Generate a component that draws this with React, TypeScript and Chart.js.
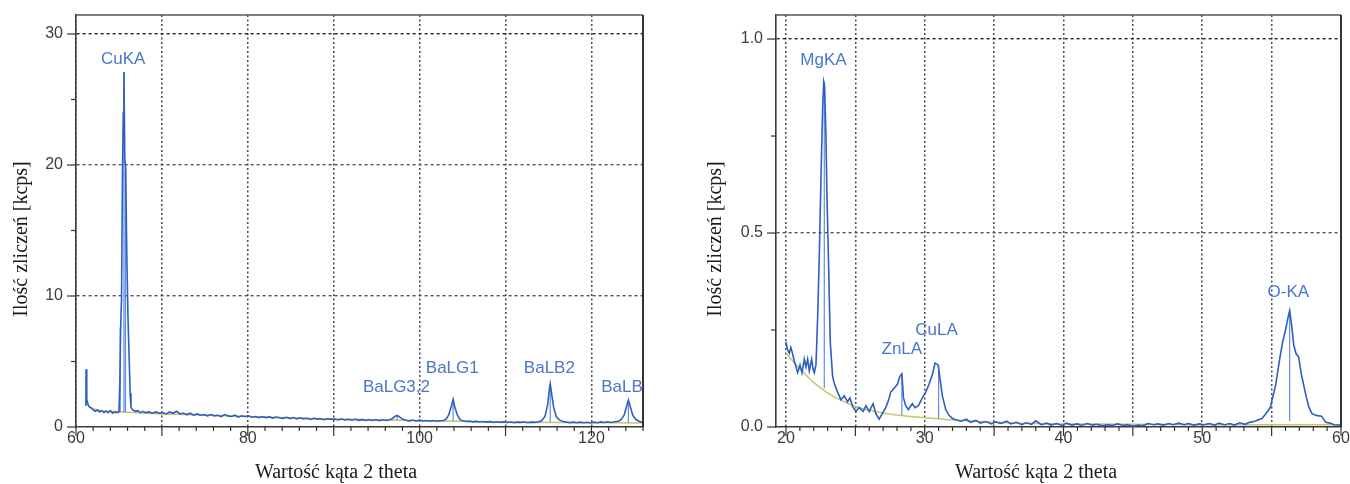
import React, { useEffect, useRef } from 'react';
import { Chart, registerables } from 'chart.js';

Chart.register(...registerables);

type P = [number, number];
type M = [number, number, number];
type L = [string, number, number];

// ---------- LEFT PANEL DATA (2θ 60–126) ----------
const leftSpectrum: P[] = [
  [61.15, 1.6], [61.17, 4.4], [61.25, 2.1], [61.4, 1.7], [61.6, 1.5], [61.8, 1.45], [62.0, 1.3],
  [62.25, 1.2], [62.5, 1.3], [62.75, 1.15], [63.0, 1.25], [63.25, 1.1], [63.5, 1.2], [63.75, 1.1],
  [64.0, 1.25], [64.25, 1.05], [64.5, 1.15], [64.75, 1.1], [65.0, 1.15], [65.1, 3.2], [65.2, 7.6],
  [65.3, 9.8], [65.4, 18.7], [65.5, 24.0], [65.58, 27.1], [65.68, 20.5], [65.78, 19.8], [65.9, 13.7],
  [66.05, 8.4], [66.2, 5.0], [66.3, 2.6], [66.4, 1.5], [66.6, 1.3], [66.9, 1.2], [67.2, 1.25],
  [67.5, 1.1], [67.8, 1.2], [68.1, 1.1], [68.5, 1.15], [68.9, 1.05], [69.3, 1.15], [69.7, 1.05],
  [70.1, 1.1], [70.5, 1.0], [70.9, 1.15], [71.3, 1.05], [71.7, 1.2], [72.1, 1.0], [72.5, 1.05],
  [72.9, 0.95], [73.3, 1.05], [73.7, 0.9], [74.1, 1.0], [74.5, 0.9], [74.9, 0.95], [75.3, 0.85],
  [75.7, 0.95], [76.1, 0.85], [76.5, 0.9], [76.9, 0.8], [77.3, 0.95], [77.7, 0.85], [78.1, 0.8],
  [78.5, 0.9], [78.9, 0.75], [79.3, 0.85], [79.7, 0.8], [80.1, 0.85], [80.5, 0.75], [80.9, 0.8],
  [81.3, 0.72], [81.7, 0.8], [82.1, 0.72], [82.5, 0.77], [82.9, 0.68], [83.3, 0.76], [83.7, 0.7],
  [84.1, 0.66], [84.5, 0.74], [84.9, 0.64], [85.3, 0.72], [85.7, 0.62], [86.1, 0.7], [86.5, 0.62],
  [86.9, 0.67], [87.3, 0.58], [87.7, 0.67], [88.1, 0.6], [88.5, 0.63], [88.9, 0.56], [89.3, 0.63],
  [89.7, 0.58], [90.1, 0.61], [90.5, 0.54], [90.9, 0.61], [91.3, 0.54], [91.7, 0.59], [92.1, 0.52],
  [92.5, 0.59], [92.9, 0.51], [93.3, 0.56], [93.7, 0.5], [94.1, 0.55], [94.5, 0.5], [94.9, 0.55],
  [95.3, 0.49], [95.7, 0.55], [96.1, 0.5], [96.5, 0.55], [96.8, 0.63], [97.1, 0.8], [97.4, 0.88],
  [97.7, 0.75], [98.0, 0.6], [98.4, 0.52], [98.8, 0.47], [99.2, 0.53], [99.6, 0.46], [100.0, 0.52],
  [100.4, 0.46], [100.8, 0.5], [101.2, 0.44], [101.6, 0.49], [102.0, 0.44], [102.4, 0.48],
  [102.8, 0.5], [103.1, 0.62], [103.4, 0.95], [103.7, 1.6], [103.9, 2.1], [104.1, 1.5], [104.4, 0.9],
  [104.7, 0.58], [105.0, 0.47], [105.4, 0.42], [105.8, 0.45], [106.2, 0.39], [106.6, 0.43],
  [107.0, 0.38], [107.4, 0.42], [107.8, 0.37], [108.2, 0.41], [108.6, 0.35], [109.0, 0.4],
  [109.4, 0.35], [109.8, 0.39], [110.2, 0.34], [110.6, 0.38], [111.0, 0.33], [111.4, 0.37],
  [111.8, 0.35], [112.2, 0.38], [112.6, 0.33], [113.0, 0.37], [113.4, 0.35], [113.8, 0.4],
  [114.2, 0.48], [114.6, 0.82], [114.9, 1.7], [115.1, 2.9], [115.2, 3.3], [115.35, 2.6], [115.6, 1.5],
  [115.9, 0.8], [116.3, 0.52], [116.7, 0.42], [117.1, 0.37], [117.5, 0.33], [117.9, 0.37],
  [118.3, 0.33], [118.7, 0.37], [119.1, 0.32], [119.5, 0.36], [119.9, 0.31], [120.3, 0.37],
  [120.7, 0.33], [121.1, 0.39], [121.5, 0.34], [121.9, 0.4], [122.3, 0.35], [122.7, 0.4],
  [123.1, 0.44], [123.4, 0.52], [123.8, 0.9], [124.1, 1.6], [124.3, 2.05], [124.5, 1.6],
  [124.8, 0.9], [125.2, 0.55], [125.6, 0.42], [126.0, 0.37],
];
const leftBackground: P[] = [
  [61.2, 2.2], [61.5, 1.6], [62, 1.4], [63, 1.25], [64, 1.2], [66, 1.12], [68, 1.05], [70, 1.0],
  [75, 0.9], [80, 0.8], [85, 0.7], [90, 0.62], [95, 0.55], [100, 0.48], [105, 0.43], [110, 0.38],
  [115, 0.35], [120, 0.33], [126, 0.31],
];
// [2θ, base, top]
const leftMarkers: M[] = [
  [65.15, 1.15, 7.6], [65.58, 1.12, 27.1], [65.76, 1.12, 19.6], [97.4, 0.54, 0.85],
  [103.9, 0.44, 2.0], [115.2, 0.36, 3.2], [124.3, 0.32, 2.0],
];
const leftLabels: L[] = [
  ['CuKA', 65.5, 28.1], ['BaLG3,2', 97.3, 3.05], ['BaLG1', 103.8, 4.5], ['BaLB2', 115.1, 4.5],
  ['BaLB1', 124.1, 3.05],
];

// ---------- RIGHT PANEL DATA (2θ 20–60) ----------
const rightSpectrum: P[] = [
  [20.0, 0.22], [20.1, 0.2], [20.24, 0.19], [20.35, 0.205], [20.43, 0.195], [20.6, 0.17],
  [20.72, 0.155], [20.84, 0.14], [21.01, 0.16], [21.15, 0.14], [21.25, 0.16], [21.32, 0.175],
  [21.44, 0.155], [21.56, 0.175], [21.68, 0.145], [21.85, 0.175], [21.95, 0.15], [22.04, 0.14],
  [22.16, 0.16], [22.28, 0.28], [22.4, 0.44], [22.52, 0.64], [22.64, 0.82], [22.72, 0.89],
  [22.78, 0.88], [22.88, 0.75], [22.95, 0.6], [23.07, 0.42], [23.19, 0.22], [23.36, 0.13],
  [23.5, 0.11], [23.72, 0.09], [23.96, 0.07], [24.2, 0.08], [24.44, 0.065], [24.6, 0.075],
  [24.84, 0.05], [25.04, 0.04], [25.28, 0.05], [25.56, 0.04], [25.76, 0.055], [26.0, 0.04],
  [26.28, 0.06], [26.47, 0.035], [26.71, 0.02], [26.95, 0.035], [27.19, 0.05], [27.4, 0.07],
  [27.55, 0.09], [27.79, 0.1], [28.03, 0.11], [28.2, 0.13], [28.35, 0.137], [28.47, 0.075],
  [28.63, 0.055], [28.82, 0.045], [29.11, 0.06], [29.3, 0.05], [29.54, 0.055], [29.83, 0.075],
  [30.07, 0.09], [30.31, 0.11], [30.55, 0.135], [30.74, 0.165], [30.96, 0.16], [31.08, 0.13],
  [31.27, 0.08], [31.51, 0.045], [31.75, 0.03], [32.0, 0.022], [32.3, 0.018], [32.6, 0.015],
  [33.0, 0.02], [33.3, 0.012], [33.7, 0.017], [34.0, 0.01], [34.4, 0.014], [34.8, 0.008],
  [35.1, 0.013], [35.5, 0.009], [35.9, 0.015], [36.2, 0.008], [36.6, 0.012], [37.0, 0.006],
  [37.3, 0.011], [37.7, 0.007], [38.0, 0.016], [38.4, 0.006], [38.8, 0.01], [39.1, 0.005],
  [39.5, 0.009], [39.9, 0.004], [40.2, 0.01], [40.6, 0.005], [41.0, 0.008], [41.3, 0.004],
  [41.7, 0.009], [42.1, 0.005], [42.4, 0.007], [42.8, 0.003], [43.2, 0.006], [43.5, 0.004],
  [43.9, 0.008], [44.3, 0.004], [44.6, 0.006], [45.0, 0.002], [45.4, 0.005], [45.7, 0.003],
  [46.1, 0.009], [46.5, 0.006], [46.8, 0.008], [47.2, 0.005], [47.6, 0.009], [47.9, 0.006],
  [48.3, 0.01], [48.7, 0.006], [49.0, 0.009], [49.4, 0.005], [49.8, 0.008], [50.1, 0.006],
  [50.5, 0.009], [50.9, 0.005], [51.2, 0.01], [51.6, 0.006], [52.0, 0.009], [52.3, 0.005],
  [52.7, 0.011], [53.1, 0.007], [53.4, 0.012], [53.8, 0.015], [54.0, 0.018], [54.3, 0.022],
  [54.6, 0.035], [54.9, 0.05], [55.1, 0.08], [55.3, 0.11], [55.6, 0.18], [55.8, 0.22],
  [56.0, 0.25], [56.2, 0.285], [56.3, 0.3], [56.45, 0.26], [56.6, 0.21], [56.75, 0.19],
  [56.95, 0.18], [57.15, 0.134], [57.3, 0.11], [57.5, 0.077], [57.7, 0.05], [57.9, 0.035],
  [58.2, 0.03], [58.6, 0.028], [58.9, 0.012], [59.2, 0.01], [59.5, 0.006], [59.8, 0.005],
  [60.0, 0.005],
];
const rightBackground: P[] = [
  [20, 0.19], [21, 0.15], [22, 0.115], [23, 0.088], [24, 0.068], [25, 0.053], [26, 0.043],
  [27, 0.036], [28, 0.031], [29, 0.027], [30, 0.024], [31, 0.021], [32, 0.018], [34, 0.014],
  [36, 0.011], [38, 0.009], [40, 0.008], [45, 0.007], [50, 0.006], [55, 0.006], [60, 0.006],
];
const rightMarkers: M[] = [
  [22.76, 0.1, 0.89], [28.35, 0.03, 0.137], [31.0, 0.022, 0.16], [56.3, 0.015, 0.3],
];
const rightLabels: L[] = [
  ['MgKA', 22.7, 0.946], ['ZnLA', 28.35, 0.2], ['CuLA', 30.85, 0.25], ['O-KA', 56.2, 0.348],
];

const xTitle = 'Wartość kąta 2 theta';
const yTitle = 'Ilość zliczeń [kcps]';

const SANS = '"Liberation Sans", Arial, sans-serif';
const SERIF = '"Liberation Serif", "Times New Roman", serif';

const isMult = (v: number, m: number) => Math.abs(v / m - Math.round(v / m)) < 1e-6;

interface PanelCfg {
  width: number;
  spectrum: P[];
  background: P[];
  markers: M[];
  labels: L[];
  xMin: number; xMax: number; xStep: number; xLabelEvery: number; xGridEvery: number;
  yMax: number; yStep: number; yLabelEvery: number; yDigits: number;
  yAxisWidth: number; padRight: number;
  yTitleX: number; xTitleX: number;
}

function makeChart(canvas: HTMLCanvasElement, c: PanelCfg) {
  const markerPts: { x: number; y: number | null }[] = [];
  c.markers.forEach(([mx, b, t]) => {
    markerPts.push({ x: mx, y: b }, { x: mx, y: t }, { x: mx, y: null });
  });

  const decor = {
    id: 'decor',
    afterDraw(chart: any) {
      const { ctx, chartArea: a } = chart;
      const xs = chart.scales.x;
      const ys = chart.scales.y;
      ctx.save();
      // frame
      ctx.strokeStyle = '#555';
      ctx.lineWidth = 1.5;
      ctx.beginPath();
      ctx.moveTo(a.left, a.top);
      ctx.lineTo(a.right, a.top);
      ctx.stroke();
      ctx.strokeStyle = '#333';
      ctx.lineWidth = 2;
      ctx.beginPath();
      ctx.moveTo(a.right, a.top);
      ctx.lineTo(a.right, a.bottom);
      ctx.stroke();
      // tick marks
      ctx.strokeStyle = '#333';
      ctx.lineWidth = 1.2;
      xs.ticks.forEach((t: any) => {
        const px = xs.getPixelForValue(t.value);
        const len = isMult(t.value, c.xGridEvery) ? 9 : 4;
        ctx.beginPath();
        ctx.moveTo(px, a.bottom);
        ctx.lineTo(px, a.bottom + len);
        ctx.stroke();
      });
      ys.ticks.forEach((t: any) => {
        const py = ys.getPixelForValue(t.value);
        const len = isMult(t.value, c.yLabelEvery) ? 9 : 5;
        ctx.beginPath();
        ctx.moveTo(a.left, py);
        ctx.lineTo(a.left - len, py);
        ctx.stroke();
      });
      // peak labels
      ctx.save();
      ctx.beginPath();
      ctx.rect(a.left, a.top, a.right - a.left, a.bottom - a.top);
      ctx.clip();
      ctx.font = `17px ${SANS}`;
      ctx.fillStyle = '#4a76cc';
      ctx.textAlign = 'center';
      ctx.textBaseline = 'middle';
      c.labels.forEach(([txt, lx, ly]) => {
        ctx.fillText(txt, xs.getPixelForValue(lx), ys.getPixelForValue(ly));
      });
      ctx.restore();
      // axis titles
      ctx.fillStyle = '#1a1a1a';
      ctx.font = `20px ${SERIF}`;
      ctx.textAlign = 'center';
      ctx.textBaseline = 'middle';
      ctx.fillText(xTitle, c.xTitleX, 473);
      ctx.translate(c.yTitleX, 239);
      ctx.rotate(-Math.PI / 2);
      ctx.fillText(yTitle, 0, 0);
      ctx.restore();
    },
  };

  return new Chart(canvas, {
    type: 'line',
    data: {
      datasets: [
        {
          data: c.spectrum.map(([x, y]) => ({ x, y })),
          borderColor: '#2d5ec2',
          borderWidth: 1.6,
          pointRadius: 0,
          tension: 0,
        },
        {
          data: markerPts,
          borderColor: '#5f8ee6',
          borderWidth: 1.2,
          pointRadius: 0,
          spanGaps: false,
        },
        {
          data: c.background.map(([x, y]) => ({ x, y })),
          borderColor: '#cbc46c',
          borderWidth: 1.5,
          pointRadius: 0,
          tension: 0.3,
        },
      ],
    },
    options: {
      responsive: false,
      animation: false,
      devicePixelRatio: 1,
      events: [],
      layout: { padding: { left: 0, top: 15, right: c.padRight, bottom: 0 } },
      plugins: { legend: { display: false }, tooltip: { enabled: false } },
      scales: {
        x: {
          type: 'linear',
          min: c.xMin,
          max: c.xMax,
          afterFit(s: any) {
            s.height = 57;
            s.paddingLeft = 0;
            s.paddingRight = 0;
          },
          ticks: {
            stepSize: c.xStep,
            autoSkip: false,
            includeBounds: false,
            maxRotation: 0,
            minRotation: 0,
            padding: 2,
            color: '#3c3c3c',
            font: { family: SANS, size: 16 },
            callback: (v: any) => (isMult(Number(v), c.xLabelEvery) ? String(v) : ''),
          },
          grid: {
            drawTicks: false,
            lineWidth: 1.5,
            color: (ctx: any) =>
              ctx.tick && isMult(ctx.tick.value, c.xGridEvery) ? '#3c4c54' : 'rgba(0,0,0,0)',
          },
          border: { display: true, color: '#3a3a3a', width: 1.6, dash: [2, 2.5] },
        },
        y: {
          type: 'linear',
          min: 0,
          max: c.yMax,
          afterFit(s: any) {
            s.width = c.yAxisWidth;
            s.paddingTop = 0;
            s.paddingBottom = 0;
          },
          ticks: {
            stepSize: c.yStep,
            autoSkip: false,
            includeBounds: false,
            padding: 13,
            color: '#3c3c3c',
            font: { family: SANS, size: 16 },
            callback: (v: any) =>
              isMult(Number(v), c.yLabelEvery) ? Number(v).toFixed(c.yDigits) : '',
          },
          grid: {
            drawTicks: false,
            lineWidth: 1.4,
            color: (ctx: any) => {
              const v = ctx.tick ? ctx.tick.value : 0;
              if (v <= 0 || !isMult(v, c.yLabelEvery)) return 'rgba(0,0,0,0)';
              return v + c.yLabelEvery > c.yMax ? '#222222' : '#4a565b';
            },
          },
          border: { display: true, color: '#3a3a3a', width: 1.6, dash: [3, 3] },
        },
      },
    },
    plugins: [decor],
  } as any);
}

const leftCfg: PanelCfg = {
  width: 680,
  spectrum: leftSpectrum,
  background: leftBackground,
  markers: leftMarkers,
  labels: leftLabels,
  xMin: 60, xMax: 126, xStep: 2, xLabelEvery: 20, xGridEvery: 10,
  yMax: 31.45, yStep: 5, yLabelEvery: 10, yDigits: 0,
  yAxisWidth: 76, padRight: 37,
  yTitleX: 22, xTitleX: 336,
};

const rightCfg: PanelCfg = {
  width: 670,
  spectrum: rightSpectrum,
  background: rightBackground,
  markers: rightMarkers,
  labels: rightLabels,
  xMin: 19.28, xMax: 60, xStep: 1, xLabelEvery: 10, xGridEvery: 5,
  yMax: 1.062, yStep: 0.25, yLabelEvery: 0.5, yDigits: 1,
  yAxisWidth: 96, padRight: 9,
  yTitleX: 36, xTitleX: 356,
};

function Panel({ cfg, left }: { cfg: PanelCfg; left: number }) {
  const ref = useRef<HTMLCanvasElement>(null);
  useEffect(() => {
    if (!ref.current) return;
    const chart = makeChart(ref.current, cfg);
    return () => chart.destroy();
  }, [cfg]);
  return (
    <canvas
      ref={ref}
      width={cfg.width}
      height={484}
      style={{ position: 'absolute', left, top: 0, width: cfg.width, height: 484 }}
    />
  );
}

export default function App() {
  return (
    <div
      style={{
        position: 'absolute',
        left: 0,
        top: 0,
        width: 1350,
        height: 484,
        background: '#ffffff',
        overflow: 'hidden',
      }}
    >
      <Panel cfg={leftCfg} left={0} />
      <Panel cfg={rightCfg} left={680} />
    </div>
  );
}
